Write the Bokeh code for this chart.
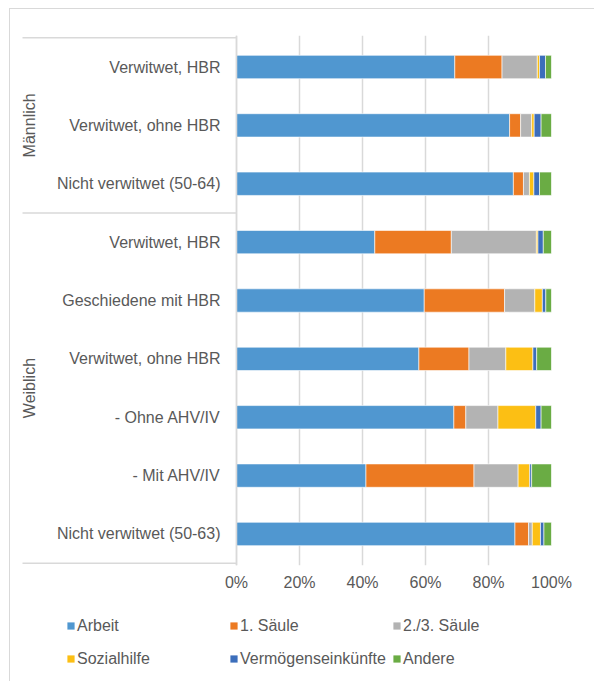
from bokeh.plotting import figure
from bokeh.layouts import column
from bokeh.models import (ColumnDataSource, FactorRange, Range1d, FixedTicker,
                          PrintfTickFormatter, Legend, LegendItem)
from bokeh.embed import file_html
from bokeh.resources import INLINE

# Income sources (share in %) by group, listed top to bottom
groups = ["Männlich"] * 3 + ["Weiblich"] * 6
categories = [
    "Verwitwet, HBR",
    "Verwitwet, ohne HBR",
    "Nicht verwitwet (50-64)",
    "Verwitwet, HBR",
    "Geschiedene mit HBR",
    "Verwitwet, ohne HBR",
    "- Ohne AHV/IV",
    "- Mit AHV/IV",
    "Nicht verwitwet (50-63)",
]
arbeit = [69.3, 86.7, 87.9, 43.9, 59.6, 57.9, 69.0, 41.1, 88.4]
saeule1 = [15.0, 3.5, 3.2, 24.3, 25.5, 15.9, 3.8, 34.3, 4.3]
saeule23 = [11.2, 3.5, 1.9, 27.0, 9.6, 11.7, 10.2, 14.0, 1.2]
sozialhilfe = [0.7, 0.8, 1.4, 0.5, 2.4, 8.6, 12.0, 3.7, 2.6]
vermoegen = [1.9, 2.2, 1.8, 1.7, 1.1, 1.2, 1.7, 0.6, 1.1]
andere = [1.9, 3.3, 3.8, 2.6, 1.8, 4.7, 3.3, 6.3, 2.4]

series_keys = ["arbeit", "saeule1", "saeule23", "sozialhilfe", "vermoegen", "andere"]
series_labels = ["Arbeit", "1. Säule", "2./3. Säule", "Sozialhilfe",
                 "Vermögenseinkünfte", "Andere"]
series_colors = ["#5097D0", "#EC7A22", "#B3B3B3", "#FCBF14", "#3C6EBB", "#6AAC44"]
x_ticks = [0, 20, 40, 60, 80, 100]

FONT = "Liberation Sans"
FONT_SIZE = "16px"
TEXT = "#595959"
LINE = "#D9D9D9"

# horizontal layout: label column to the left of the 0-100 % bar area
LABEL_AREA_PX = 226   # frame left edge to 0 %
RULE_PX = 214         # start of the group rules to 0 %
BAR_AREA_PX = 315     # 0 % to 100 %
x_start = -100 * LABEL_AREA_PX / BAR_AREA_PX
rule_start = -100 * RULE_PX / BAR_AREA_PX

factors = [(g, c) for g, c in zip(groups, categories)]
# first factor sits at the bottom, so reverse for a top-down reading order
rows = list(reversed(factors))
data = dict(y=rows)
for key, vals in zip(series_keys, [arbeit, saeule1, saeule23, sozialhilfe, vermoegen, andere]):
    data[key] = list(reversed(vals))
source = ColumnDataSource(data)

p = figure(
    width=584, height=586,
    y_range=FactorRange(*rows, group_padding=0, factor_padding=0,
                        range_padding=0.04, range_padding_units="absolute"),
    x_range=Range1d(x_start, 100),
    output_backend="svg", toolbar_location=None,
    min_border_left=0, min_border_right=43, min_border_top=26, min_border_bottom=30,
)
p.outline_line_color = None
p.background_fill_color = "white"
p.border_fill_color = "white"

renderers = p.hbar_stack(series_keys, y="y", height=0.4, color=series_colors,
                         line_color="white", line_width=0.6, source=source)

# rules above, between and below the two groups in the label column
bottom_to_top = list(reversed(groups))
bounds = [0] + [i for i in range(1, len(bottom_to_top))
                if bottom_to_top[i] != bottom_to_top[i - 1]] + [len(bottom_to_top)]
p.segment(x0=[rule_start] * len(bounds), y0=bounds, x1=[0] * len(bounds), y1=bounds,
          line_color=LINE, line_width=1.5)

# x axis
p.xaxis.ticker = FixedTicker(ticks=x_ticks)
p.xaxis.formatter = PrintfTickFormatter(format="%d%%")
p.xaxis.axis_line_color = None
p.xaxis.major_tick_line_color = None
p.xaxis.minor_tick_line_color = None
p.xaxis.major_tick_out = 0
p.xaxis.major_tick_in = 0
p.xaxis.major_label_standoff = 8
p.xaxis.major_label_text_font = FONT
p.xaxis.major_label_text_font_size = FONT_SIZE
p.xaxis.major_label_text_color = TEXT

p.xgrid.ticker = FixedTicker(ticks=x_ticks)
p.xgrid.grid_line_color = LINE
p.xgrid.grid_line_width = 1.5
p.ygrid.grid_line_color = None

# nested category axis at 0 %
ya = p.yaxis[0]
ya.fixed_location = 0
ya.axis_line_color = LINE
ya.axis_line_width = 1.5
ya.major_tick_line_color = None
ya.major_tick_out = 0
ya.major_tick_in = 0
ya.major_label_standoff = 16
ya.major_label_text_font = FONT
ya.major_label_text_font_size = FONT_SIZE
ya.major_label_text_color = TEXT
ya.group_text_font = FONT
ya.group_text_font_size = FONT_SIZE
ya.group_text_color = TEXT
ya.group_text_font_style = "normal"
ya.group_label_orientation = "vertical"
ya.separator_line_color = None

# legend strip below the chart
lg = figure(width=584, height=86, x_range=Range1d(0, 1), y_range=Range1d(0, 1),
            x_axis_type=None, y_axis_type=None, output_backend="svg",
            toolbar_location=None, min_border=0)
lg.outline_line_color = None
lg.background_fill_color = "white"
lg.border_fill_color = "white"
# hidden renderers that only provide the legend swatches
swatches = [lg.quad(left=[0], right=[0], top=[0], bottom=[0], fill_color=c,
                    line_color=None, visible=False)
            for c in series_colors]

legend = Legend(
    items=[LegendItem(label=lab, renderers=[r]) for lab, r in zip(series_labels, swatches)],
    ncols=3, location=(56, 6), orientation="horizontal",
    glyph_width=9, glyph_height=9, label_standoff=2, label_width=152, label_height=33,
    spacing=0, padding=0, margin=0,
    label_text_font=FONT, label_text_font_size=FONT_SIZE, label_text_color=TEXT,
    border_line_color=None, background_fill_alpha=0, inactive_fill_alpha=0,
)
lg.add_layout(legend, "center")

layout = column(p, lg, spacing=0)
# chart area border (left and top edge)
layout.styles = {"margin-left": "9px", "margin-top": "8px",
                 "border-left": f"1px solid {LINE}", "border-top": f"1px solid {LINE}"}

open("out.html", "w").write(file_html(layout, INLINE))
